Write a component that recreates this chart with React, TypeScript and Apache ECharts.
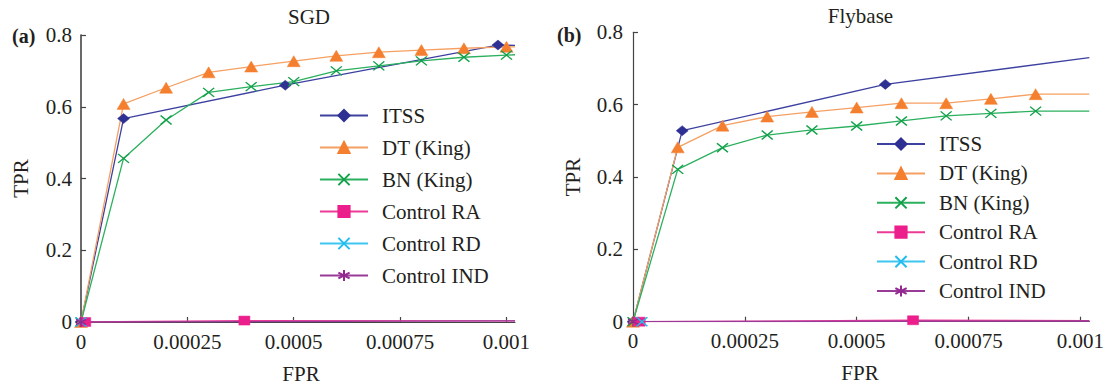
import { useEffect, useRef } from 'react';
import * as echarts from 'echarts';

// ---------- data ----------
const X_TICKS = [0, 0.00025, 0.0005, 0.00075, 0.001];
const Y_TICKS = [0, 0.2, 0.4, 0.6, 0.8];
const X_MAX = 0.00102;
const SERIES_NAMES = ['ITSS', 'DT (King)', 'BN (King)', 'Control RA', 'Control RD', 'Control IND'];

// SGD panel (a)
const sgdItssFpr = [0, 0.0001, 0.00048, 0.00098, 0.00102];
const sgdItssTpr = [0, 0.567, 0.66, 0.772, 0.771];
const sgdDtFpr = [0, 0.0001, 0.0002, 0.0003, 0.0004, 0.0005, 0.0006, 0.0007, 0.0008, 0.0009, 0.001, 0.00102];
const sgdDtTpr = [0, 0.608, 0.653, 0.696, 0.712, 0.727, 0.742, 0.752, 0.758, 0.763, 0.767, 0.767];
const sgdBnFpr = [0, 0.0001, 0.0002, 0.0003, 0.0004, 0.0005, 0.0006, 0.0007, 0.0008, 0.0009, 0.001, 0.00102];
const sgdBnTpr = [0, 0.456, 0.563, 0.64, 0.656, 0.67, 0.7, 0.714, 0.728, 0.738, 0.744, 0.745];
const sgdRaFpr = [0.00001, 0.000384, 0.00102];
const sgdRaTpr = [0, 0.004, 0.003];
const sgdRdFpr = [0];
const sgdRdTpr = [0];
const sgdIndFpr = [0, 0.00102];
const sgdIndTpr = [0, 0.003];

// Flybase panel (b)
const flyItssFpr = [0, 0.00011, 0.000564, 0.00102];
const flyItssTpr = [0, 0.528, 0.656, 0.73];
const flyDtFpr = [0, 0.0001, 0.0002, 0.0003, 0.0004, 0.0005, 0.0006, 0.0007, 0.0008, 0.0009, 0.00102];
const flyDtTpr = [0, 0.482, 0.542, 0.567, 0.58, 0.592, 0.604, 0.604, 0.616, 0.629, 0.629];
const flyBnFpr = [0, 0.0001, 0.0002, 0.0003, 0.0004, 0.0005, 0.0006, 0.0007, 0.0008, 0.0009, 0.00102];
const flyBnTpr = [0, 0.421, 0.481, 0.516, 0.53, 0.541, 0.555, 0.569, 0.576, 0.582, 0.582];
const flyRaFpr = [0.000015, 0.000626, 0.00102];
const flyRaTpr = [0, 0.004, 0.003];
const flyRdFpr = [0.00002];
const flyRdTpr = [0];
const flyIndFpr = [0, 0.00102];
const flyIndTpr = [0, 0.002];

// ---------- styles ----------
const FONT = '"Liberation Serif", "Times New Roman", serif';
const TEXT = '#231f20';
const X_PATH = 'path://M0,0L10,8M10,0L0,8';
const STAR_PATH = 'path://M5,0L5,10M0,2.5L10,7.5M10,2.5L0,7.5';

const STYLES = [
  { line: '#3d41a0', item: '#2e3192', symbol: 'diamond', size: [12, 10] },
  { line: '#f5a062', item: '#f47f2e', symbol: 'triangle', size: [13, 11] },
  { line: '#2bb05e', item: '#12a14a', symbol: X_PATH, size: [11, 9], stroke: true },
  { line: '#ec3a96', item: '#ec1e8c', symbol: 'rect', size: [11, 9] },
  { line: '#3cc6f0', item: '#22bdee', symbol: X_PATH, size: [11, 9], stroke: true },
  { line: '#9a3a98', item: '#92278f', symbol: STAR_PATH, size: [10, 10], stroke: true },
];

function makeSeries(idx: number, fpr: number[], tpr: number[], axisIndex: number) {
  const s = STYLES[idx];
  return {
    type: 'line',
    name: SERIES_NAMES[idx],
    xAxisIndex: axisIndex,
    yAxisIndex: axisIndex,
    symbol: s.symbol,
    symbolSize: s.size,
    lineStyle: { color: s.line, width: 1.3 },
    itemStyle: {
      color: s.stroke ? 'none' : s.item,
      borderColor: s.item,
      borderWidth: s.stroke ? 1.4 : 0.5,
    },
    emphasis: { disabled: true },
    data: fpr.map((x, i) =>
      x > 0.001 ? { value: [x, tpr[i]], symbol: 'none' } : { value: [x, tpr[i]] }
    ),
  };
}

function xAxis(gridIndex: number) {
  return {
    type: 'value',
    gridIndex,
    min: 0,
    max: X_MAX,
    interval: 0.00025,
    axisLine: { show: true, lineStyle: { color: '#444', width: 1.2 } },
    axisTick: { show: true, inside: true, length: 5, customValues: X_TICKS, lineStyle: { color: '#444', width: 1.2 } },
    axisLabel: {
      customValues: X_TICKS,
      margin: 9,
      fontFamily: FONT,
      fontSize: 21,
      color: TEXT,
      formatter: (v: number) => (v > 0.0010001 ? '' : String(Number(v.toPrecision(6)))),
    },
    splitLine: { show: false },
  };
}

function yAxis(gridIndex: number, margin: number, width: number) {
  return {
    type: 'value',
    gridIndex,
    min: 0,
    max: 0.8,
    interval: 0.2,
    axisLine: { show: true, lineStyle: { color: '#444', width } },
    axisTick: { show: true, inside: true, length: 5, customValues: Y_TICKS, lineStyle: { color: '#444', width: 1.2 } },
    axisLabel: {
      margin,
      fontFamily: FONT,
      fontSize: 21,
      color: TEXT,
      formatter: (v: number) => String(Number(v.toFixed(2))),
    },
    splitLine: { show: false },
  };
}

function legend(left: number, top: number, gap: number) {
  return {
    orient: 'vertical',
    left,
    top,
    padding: 0,
    itemWidth: 48,
    itemHeight: 14,
    itemGap: gap,
    data: SERIES_NAMES,
    selectedMode: false,
    textStyle: { fontFamily: FONT, fontSize: 21, color: TEXT, lineHeight: 21, padding: [0, 0, 0, 9] },
  };
}

function txt(text: string, x: number, y: number, opts: any = {}) {
  return {
    type: 'text',
    x,
    y,
    rotation: opts.rotation || 0,
    style: {
      text,
      fill: TEXT,
      font: `${opts.bold ? 'bold ' : ''}${opts.size || 21}px ${FONT}`,
      textAlign: opts.align || 'center',
      textVerticalAlign: 'middle',
    },
  };
}

export default function App() {
  const ref = useRef<HTMLDivElement>(null);
  useEffect(() => {
    if (!ref.current) return;
    const chart = echarts.init(ref.current, null, { renderer: 'svg' });
    chart.setOption({
      animation: false,
      backgroundColor: '#fff',
      grid: [
        { left: 81, top: 35, width: 434, height: 287, containLabel: false },
        { left: 633, top: 32.3, width: 458, height: 289.4, containLabel: false },
      ],
      xAxis: [xAxis(0), xAxis(1)],
      yAxis: [yAxis(0, 9, 1.6), yAxis(1, 10, 1.2)],
      legend: [legend(319, 105, 11), legend(876, 133.5, 8.4)],
      graphic: [
        txt('SGD', 309, 16.5),
        txt('Flybase', 860.5, 15.5),
        txt('(a)', 12, 36, { bold: true, size: 20, align: 'left' }),
        txt('(b)', 557, 35, { bold: true, size: 20, align: 'left' }),
        txt('TPR', 21, 178.5, { rotation: Math.PI / 2 }),
        txt('TPR', 573, 177, { rotation: Math.PI / 2 }),
        txt('FPR', 301, 374),
        txt('FPR', 860, 372.5),
      ],
      series: [
        makeSeries(0, sgdItssFpr, sgdItssTpr, 0),
        makeSeries(1, sgdDtFpr, sgdDtTpr, 0),
        makeSeries(2, sgdBnFpr, sgdBnTpr, 0),
        makeSeries(3, sgdRaFpr, sgdRaTpr, 0),
        makeSeries(4, sgdRdFpr, sgdRdTpr, 0),
        makeSeries(5, sgdIndFpr, sgdIndTpr, 0),
        makeSeries(0, flyItssFpr, flyItssTpr, 1),
        makeSeries(1, flyDtFpr, flyDtTpr, 1),
        makeSeries(2, flyBnFpr, flyBnTpr, 1),
        makeSeries(3, flyRaFpr, flyRaTpr, 1),
        makeSeries(4, flyRdFpr, flyRdTpr, 1),
        makeSeries(5, flyIndFpr, flyIndTpr, 1),
      ],
    });
    return () => chart.dispose();
  }, []);
  return (
    <div
      ref={ref}
      style={{ position: 'fixed', left: 0, top: 0, width: 1107, height: 387, background: '#fff' }}
    />
  );
}
